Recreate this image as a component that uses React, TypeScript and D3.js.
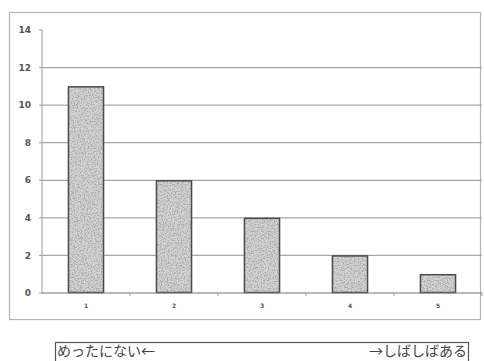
import React from "react";
import * as d3 from "d3";

const categories = ["1", "2", "3", "4", "5"];
const counts = [11, 6, 4, 2, 1];
const yTicks = [0, 2, 4, 6, 8, 10, 12, 14];
const leftNote = "めったにない←";
const rightNote = "→しばしばある";

const W = 484;
const H = 361;

export default function App() {
  const x = d3.scaleBand<string>().domain(categories).range([42, 482]).paddingInner(0.59).paddingOuter(0.295);
  const y = d3.scaleLinear().domain([0, 14]).range([293, 30]);
  const step = x.step();
  const x0 = 42;

  return (
    <svg width={W} height={H} style={{ position: "absolute", left: 0, top: 0, background: "#fff" }}>
      <defs>
        <filter id="grain" x="0" y="0" width="100%" height="100%">
          <feTurbulence type="fractalNoise" baseFrequency="0.7" numOctaves="2" seed="5" result="n" />
          <feColorMatrix
            in="n"
            type="matrix"
            values="0 0 0 0 0.42  0 0 0 0 0.42  0 0 0 0 0.42  5 0 0 0 -2.3"
            result="dots"
          />
          <feComposite in="dots" in2="SourceGraphic" operator="in" result="clip" />
          <feMerge>
            <feMergeNode in="SourceGraphic" />
            <feMergeNode in="clip" />
          </feMerge>
        </filter>
      </defs>
      <rect x={0} y={0} width={W} height={H} fill="#fff" />
      {/* outer chart frame */}
      <rect x={9.5} y={12.5} width={471} height={307} fill="none" stroke="#b5b5b5" strokeWidth={1.2} />
      {/* horizontal gridlines */}
      {yTicks.filter((t) => t > 0 && t < 14).map((t) => (
        <line key={t} x1={x0} x2={482} y1={y(t)} y2={y(t)} stroke="#a8a8a8" strokeWidth={1.2} />
      ))}
      {/* y axis */}
      <line x1={x0} x2={x0} y1={y(14)} y2={y(0)} stroke="#9a9a9a" strokeWidth={1} />
      {yTicks.map((t) => (
        <g key={t}>
          <line x1={x0 - 3} x2={x0} y1={y(t)} y2={y(t)} stroke="#9a9a9a" />
          <text x={31} y={y(t)} dy="0.35em" textAnchor="end" fontFamily="DejaVu Sans" fontSize={9} fontWeight="bold" fill="#555">
            {t}
          </text>
        </g>
      ))}
      {/* bars */}
      {counts.map((v, i) => (
        <g key={i}>
          <rect
            x={x(categories[i])!}
            y={y(v)}
            width={x.bandwidth()}
            height={y(0) - y(v)}
            fill="#d2d2d2"
            filter="url(#grain)"
          />
          <rect
            x={x(categories[i])! + 0.5}
            y={y(v) + 0.5}
            width={x.bandwidth() - 1}
            height={y(0) - y(v) - 1}
            fill="none"
            stroke="#4a4a4a"
            strokeWidth={1.5}
          />
        </g>
      ))}
      {/* x axis */}
      <line x1={x0} x2={482} y1={y(0)} y2={y(0)} stroke="#777" strokeWidth={1.2} />
      {categories.map((c, i) => (
        <line key={"t" + i} x1={x0 + step * (i + 1)} x2={x0 + step * (i + 1)} y1={y(0)} y2={y(0) + 3} stroke="#999" />
      ))}
      {categories.map((c) => (
        <text
          key={c}
          x={x(c)! + x.bandwidth() / 2}
          y={308}
          textAnchor="middle"
          fontFamily="DejaVu Sans"
          fontSize={6}
          fontWeight="bold"
          fill="#555"
        >
          {c}
        </text>
      ))}
      {/* scale note box */}
      <rect x={55.5} y={342.5} width={413} height={30} fill="none" stroke="#555" strokeWidth={1.2} />
      <text x={57} y={356} fontFamily="Noto Sans CJK JP" fontSize={14} fill="#444">
        {leftNote}
      </text>
      <text x={467} y={356} textAnchor="end" fontFamily="Noto Sans CJK JP" fontSize={14} fill="#444">
        {rightNote}
      </text>
    </svg>
  );
}
